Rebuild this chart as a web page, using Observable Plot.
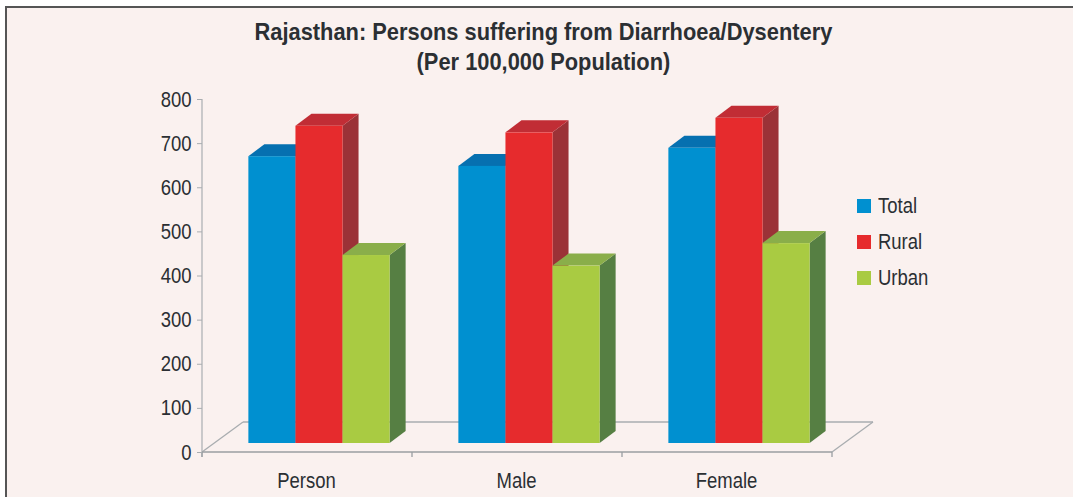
<!DOCTYPE html>
<html>
<head>
<meta charset="utf-8">
<script src="https://cdn.jsdelivr.net/npm/d3@7"></script>
<script src="https://cdn.jsdelivr.net/npm/@observablehq/plot@0.6"></script>
<style>
html,body{margin:0;padding:0;background:#fff;overflow:hidden}
#panel{position:relative;box-sizing:border-box;margin:6px 0 0 5px;width:1068px;height:491px;background:#faf1ef;
  border-left:2px solid #555;border-top:2px solid #555;overflow:hidden;color:#2b2f33;
  font-family:"Liberation Sans",sans-serif}
#title{height:72px;box-sizing:border-box;padding-top:9px;text-align:center;font-weight:bold;font-size:24px;line-height:30px;margin-left:-5px;width:1083px}
#title span{display:inline-block;transform:scaleX(0.91);white-space:nowrap}
#chart svg{display:block;background:transparent}
#legend{position:absolute;left:850px;top:180px;font-size:22px}
#legend div{display:flex;align-items:center;height:36px}
#legend i{display:block;width:14px;height:14px;margin-right:7px}
#legend span{display:inline-block;transform:scaleX(0.84);transform-origin:left center}
</style>
</head>
<body>
<div id="panel">
  <div id="title"><span>Rajasthan: Persons suffering from Diarrhoea/Dysentery<br>(Per 100,000 Population)</span></div>
  <div id="chart"></div>
  <div id="legend"></div>
</div>
<script>
const categories = ["Person", "Male", "Female"];
const series = ["Total", "Rural", "Urban"];
const totalValues = [650, 628, 669];
const ruralValues = [719, 704, 737];
const urbanValues = [426, 402, 453];
const yTicks = [0, 100, 200, 300, 400, 500, 600, 700, 800];
const frontColors = ["#0090d0", "#e62b2d", "#a9cb42"];
const topColors = ["#0670b0", "#c12d35", "#8aae4a"];
const sideColors = ["#0670b0", "#9b3237", "#567f43"];

const seriesValues = [totalValues, ruralValues, urbanValues];
const rows = series.flatMap((s, j) => categories.map((c, i) => ({category: c, series: s, value: seriesValues[j][i]})));

const barDx = 12, barDy = -9;   // bars stand on the floor, inset from its front edge
const depthX = 16, depthY = 12; // bar extrusion
const floorX = 41, floorY = 30; // floor extrusion
const NS = "http://www.w3.org/2000/svg";

function poly(g, pts, fill) {
  const p = document.createElementNS(NS, "polygon");
  p.setAttribute("points", pts.map(d => d.join(",")).join(" "));
  p.setAttribute("fill", fill);
  g.appendChild(p);
}
function line(g, x1, y1, x2, y2, stroke) {
  const l = document.createElementNS(NS, "line");
  for (const [k, v] of Object.entries({x1, y1, x2, y2, stroke})) l.setAttribute(k, v);
  l.setAttribute("stroke-width", 1.3);
  g.appendChild(l);
}

function box3d(j) {
  return (index, scales, values, dimensions, context, next) => {
    const g = document.createElementNS(NS, "g");
    const bw = scales.x.bandwidth();
    const faces = document.createElementNS(NS, "g");
    for (const i of index) {
      const x0 = values.x[i] + barDx, x1 = x0 + bw;
      const yTop = Math.min(values.y1[i], values.y2[i]) + barDy;
      const yBase = Math.max(values.y1[i], values.y2[i]) + barDy;
      poly(faces, [[x1, yTop], [x1 + depthX, yTop - depthY], [x1 + depthX, yBase - depthY], [x1, yBase]], sideColors[j]);
      poly(faces, [[x0, yTop], [x0 + depthX, yTop - depthY], [x1 + depthX, yTop - depthY], [x1, yTop]], topColors[j]);
    }
    g.appendChild(faces);
    const front = next(index, scales, values, dimensions, context);
    if (front) g.appendChild(front);
    return g;
  };
}

function floor(index, scales, values, dimensions) {
  const g = document.createElementNS(NS, "g");
  const {marginLeft: l, width, marginRight, marginTop} = dimensions;
  const r = width - marginRight, y0 = scales.y(0), step = (r - l) / categories.length;
  const back = "#a9adb0", axis = "#9a9ea2";
  line(g, l, y0, l + floorX, y0 - floorY, back);
  line(g, r, y0, r + floorX, y0 - floorY, back);
  line(g, l + floorX, y0 - floorY, r + floorX, y0 - floorY, back);
  line(g, l, marginTop, l, y0 + 5, "#b0b3b6");
  line(g, l, y0, r, y0, axis);
  for (let i = 0; i <= categories.length; i++) line(g, l + i * step, y0, l + i * step, y0 + 5, axis);
  return g;
}

const chart = Plot.plot({
  width: 1066,
  height: 417,
  marginTop: 19,
  marginBottom: 45,
  marginLeft: 194,
  marginRight: 241,
  style: {background: "transparent", fontFamily: '"Liberation Sans",sans-serif', color: "#2b2f33"},
  fx: {domain: categories, padding: 0, label: null},
  x: {domain: series, axis: null, paddingInner: 0, paddingOuter: 0.73, round: false},
  y: {domain: [0, 800], label: null},
  color: {domain: series, range: frontColors},
  marks: [
    Plot.frame({facet: "super", stroke: "none", render: floor}),
    Plot.axisY({ticks: yTicks, tickSize: 5, tickPadding: 6, fontSize: 22, label: null, stroke: "#a9adb0", fill: "#2b2f33"}),
    Plot.axisFx({anchor: "bottom", tickSize: 0, tickPadding: 20, dx: -1, fontSize: 22, label: null, fill: "#2b2f33"}),
    ...series.map((s, j) => Plot.barY(rows.filter(d => d.series === s), {
      fx: "category", x: "series", y: "value", fill: "series", dx: barDx, dy: barDy, render: box3d(j)
    }))
  ]
});
document.getElementById("chart").appendChild(chart);
// the reference sets its axis text in a condensed face: narrow the glyphs to match
chart.querySelectorAll("text").forEach(t => {
  t.setAttribute("textLength", t.getComputedTextLength() * 0.84);
  t.setAttribute("lengthAdjust", "spacingAndGlyphs");
});

const legend = d3.select("#legend").selectAll("div").data(series).join("div");
legend.append("i").style("background", (d, j) => frontColors[j]);
legend.append("span").text(d => d);
</script>
</body>
</html>
